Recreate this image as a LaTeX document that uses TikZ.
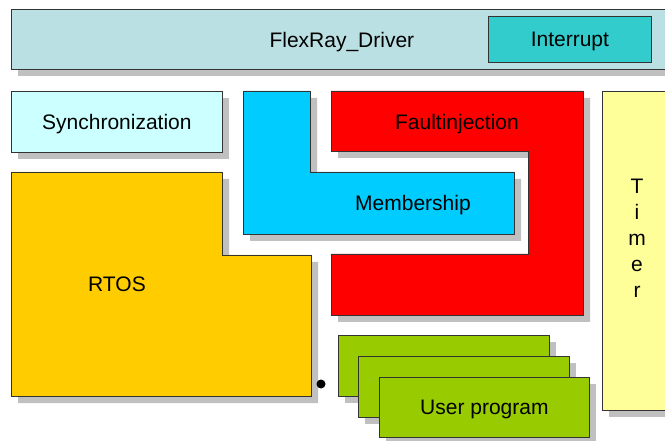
\documentclass[tikz,border=0pt]{standalone}
\usepackage{fontspec}
\setmainfont{Liberation Sans}
\usetikzlibrary{shadows}
\definecolor{flexc}{HTML}{BBE0E3}
\definecolor{intc}{HTML}{33CCCC}
\definecolor{syncc}{HTML}{CCFFFF}
\definecolor{memc}{HTML}{00CCFF}
\definecolor{faultc}{HTML}{FF0000}
\definecolor{rtosc}{HTML}{FFCC00}
\definecolor{timerc}{HTML}{FFFF99}
\definecolor{userc}{HTML}{99CC00}
\definecolor{shadc}{HTML}{C0C0C0}
\definecolor{edgec}{HTML}{333333}
\tikzset{
  blk/.style={draw=edgec, line width=0.8pt,
    drop shadow={shadow xshift=7pt, shadow yshift=-7pt, fill=shadc, opacity=1}},
  plainblk/.style={draw=edgec, line width=0.8pt},
  lbl/.style={font=\fontsize{21}{25}\selectfont, text=black, text depth=0pt},
  boxn/.style={blk, rectangle, inner sep=0pt, anchor=north west, lbl},
}
\begin{document}
\begin{tikzpicture}[x=1pt,y=-1pt]
\useasboundingbox (0,0) rectangle (665,441);
\clip (0,0) rectangle (665,441);
\fill[white] (0,0) rectangle (665,441);
% FlexRay driver
\node[boxn, fill=flexc, minimum width=661pt, minimum height=60pt] (flex) at (11,9) {FlexRay\_Driver};
\node[plainblk, rectangle, inner sep=0pt, anchor=north west, lbl, fill=intc, minimum width=163pt, minimum height=46pt] (intr) at (488,16) {Interrupt};
% Synchronization
\node[boxn, fill=syncc, minimum width=211pt, minimum height=61pt] (sync) at (11,91) {Synchronization};
% Faultinjection
\draw[blk, fill=faultc] (331,91) -- (583,91) -- (583,315) -- (331,315) -- (331,254) -- (528,254) -- (528,151) -- (331,151) -- cycle;
\node[lbl] (fault) at (457,122) {Faultinjection};
% Membership
\draw[blk, fill=memc] (243,91) -- (310,91) -- (310,172) -- (514,172) -- (514,234) -- (243,234) -- cycle;
\node[lbl] (memb) at (413,203) {Membership};
% RTOS
\draw[blk, fill=rtosc] (11,172) -- (222,172) -- (222,255) -- (311,255) -- (311,396) -- (11,396) -- cycle;
\node[lbl] (rtos) at (117,284) {RTOS};
% Timer
\node[boxn, fill=timerc, minimum width=70pt, minimum height=319pt] (timerbox) at (602,91) {};
\node[font=\fontsize{21}{26}\selectfont, align=center, inner sep=0pt] (timer) at (637,238) {T\\i\\m\\e\\r};
% User programs
\node[boxn, fill=userc, minimum width=211pt, minimum height=61pt] (user1) at (338,335) {};
\node[boxn, fill=userc, minimum width=211pt, minimum height=61pt] (user2) at (358,356) {};
\node[boxn, fill=userc, minimum width=210pt, minimum height=60pt] (user3) at (379,377) {User program};
% dot
\fill[black] (321,384) circle (4.5);
\end{tikzpicture}
\end{document}
